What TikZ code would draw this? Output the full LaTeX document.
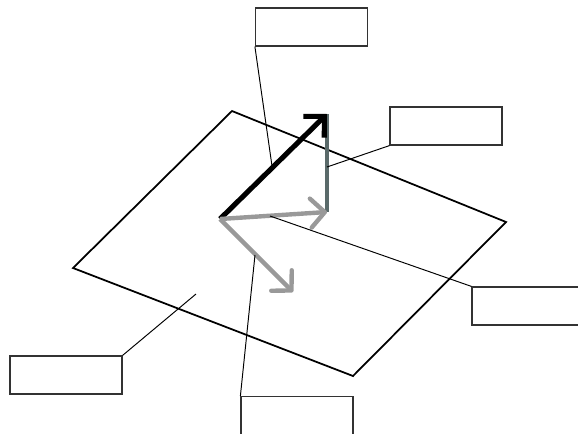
\documentclass[tikz,border=0pt]{standalone}
\usepackage{tikz}
\usetikzlibrary{arrows.meta}

\begin{document}
\begin{tikzpicture}[
                x=0.02cm, y=-0.02cm,
                labelbox/.style={rectangle, draw=black!80, line width=0.7pt, minimum width=2.24cm, minimum height=0.76cm, inner sep=0pt, fill=white},
                planeedge/.style={line width=1pt, black, line join=miter},
                leader/.style={line width=0.55pt, black},
                vecblack/.style={-{Straight Barb[length=8.5pt,width=17pt]}, line width=2.9pt, black},
                vecgray/.style={-{Straight Barb[length=8pt,width=16.5pt,round]}, line width=2.5pt, black!40},
                vecdark/.style={line width=2.6pt, color={rgb,255:red,90;green,106;blue,106}},
            ]
            \clip (0,0) rectangle (578,433);

            % Plane
            \coordinate (pa) at (232,111);
            \coordinate (pb) at (506,222);
            \coordinate (pc) at (353,376);
            \coordinate (pd) at (73,268);
            \draw[planeedge] (pa) -- (pb) -- (pc) -- (pd) -- cycle;

            % Vectors
            \coordinate (orig) at (220,219);
            \coordinate (tipsum) at (327,114);
            \coordinate (tipflat) at (327,212);
            \coordinate (tipdown) at (293,292);
            \draw[vecdark] (tipflat) -- (tipsum);
            \draw[vecblack] (orig) -- (tipsum);
            \draw[vecgray] (orig) -- (tipflat);
            \draw[vecgray] (orig) -- (tipdown);

            % Label boxes
            \node[labelbox] (boxtop)   at (311.5,27)  {};
            \node[labelbox] (boxright) at (446,126)   {};
            \node[labelbox] (boxfar)   at (528,306)   {};
            \node[labelbox] (boxlow)   at (297,415.5) {};
            \node[labelbox] (boxleft)  at (66,375)    {};

            % Leader lines
            \coordinate (endtop) at (272,166);
            \coordinate (endright) at (327,167);
            \coordinate (endfar) at (270,216);
            \coordinate (endlow) at (255,255);
            \coordinate (endleft) at (196,294);
            \draw[leader] (boxtop.south west) -- (endtop);
            \draw[leader] (boxright.south west) -- (endright);
            \draw[leader] (boxfar.north west) -- (endfar);
            \draw[leader] (boxlow.north west) -- (endlow);
            \draw[leader] (boxleft.north east) -- (endleft);
        \end{tikzpicture}
\end{document}
